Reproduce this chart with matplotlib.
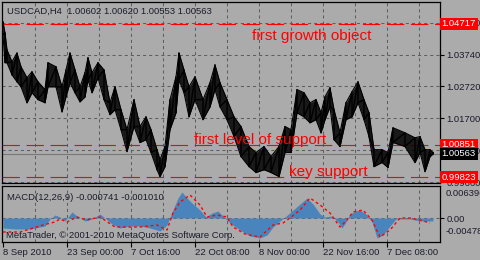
import numpy as np
import matplotlib.pyplot as plt
import matplotlib.transforms as mtransforms

plt.rcParams['font.family'] = ['Liberation Sans', 'DejaVu Sans']
plt.rcParams['lines.scale_dashes'] = False

# USDCAD H4, price swings (bar number, high, low)
bar_no = [0, 2, 4, 9, 14, 18, 24, 29, 35, 42, 45, 53, 59, 63, 67, 72, 77, 82, 85, 89,
          95, 101, 107, 112, 118, 124, 131, 137, 143, 148, 154, 157, 162, 167, 173, 176,
          181, 186, 192, 200, 207, 212, 217, 224, 231, 238, 246, 253, 261, 268, 276, 282,
          288, 294, 301, 307, 313, 318, 322, 327, 331, 337, 343, 349, 355, 361, 366, 371,
          379, 385, 390, 402, 412, 417, 422, 427, 430]
bar_high = [1.0478, 1.0443, 1.0389, 1.0351, 1.0379, 1.0335, 1.0300, 1.0319, 1.0287, 1.0262,
            1.0348, 1.0335, 1.0271, 1.0325, 1.0379, 1.0325, 1.0271, 1.0316, 1.0364, 1.0316,
            1.0348, 1.0325, 1.0220, 1.0271, 1.0198, 1.0134, 1.0230, 1.0144, 1.0175, 1.0134,
            1.0070, 1.0038, 1.0080, 1.0230, 1.0303, 1.0379, 1.0325, 1.0271, 1.0303, 1.0230,
            1.0284, 1.0341, 1.0284, 1.0230, 1.0175, 1.0144, 1.0080, 1.0061, 1.0080, 1.0048,
            1.0080, 1.0144, 1.0134, 1.0262, 1.0252, 1.0220, 1.0230, 1.0188, 1.0239, 1.0268,
            1.0198, 1.0124, 1.0220, 1.0255, 1.0287, 1.0230, 1.0188, 1.0070, 1.0070, 1.0061,
            1.0140, 1.0124, 1.0108, 1.0112, 1.0070, 1.0070, 1.0061]
bar_low = [1.0437, 1.0348, 1.0348, 1.0309, 1.0287, 1.0271, 1.0220, 1.0252, 1.0230, 1.0220,
           1.0271, 1.0271, 1.0191, 1.0239, 1.0284, 1.0252, 1.0223, 1.0239, 1.0293, 1.0252,
           1.0300, 1.0230, 1.0182, 1.0198, 1.0134, 1.0064, 1.0144, 1.0093, 1.0102, 1.0061,
           1.0006, 0.9984, 1.0016, 1.0134, 1.0188, 1.0293, 1.0252, 1.0175, 1.0230, 1.0166,
           1.0207, 1.0262, 1.0207, 1.0166, 1.0112, 1.0048, 1.0016, 0.9997, 1.0006, 0.9997,
           0.9984, 1.0061, 1.0061, 1.0188, 1.0175, 1.0156, 1.0166, 1.0124, 1.0166, 1.0207,
           1.0102, 1.0080, 1.0166, 1.0175, 1.0220, 1.0166, 1.0112, 1.0016, 1.0029, 1.0013,
           1.0093, 1.0080, 1.0029, 1.0061, 1.0000, 1.0048, 1.0056]

# MACD(12,26,9) histogram and signal line
macd_bar = [0, 12, 27, 42, 47, 52, 57, 62, 69, 74, 82, 89, 97, 102, 109, 117, 127, 137,
            147, 157, 164, 169, 175, 179, 183, 189, 197, 203, 209, 215, 221, 227, 237, 247,
            257, 264, 270, 277, 282, 289, 297, 304, 310, 317, 322, 329, 335, 339, 343, 347,
            353, 357, 363, 369, 374, 380, 387, 393, 399, 407, 417, 430]
macd_hist = [-0.0020, -0.0022, -0.0022, -0.0016, -0.0002, 0.0006, 0.0002, -0.0006, 0.0012,
             0.0004, -0.0006, -0.0002, 0.0008, 0.0000, -0.0012, -0.0020, -0.0016, -0.0016,
             -0.0020, -0.0026, -0.0014, 0.0012, 0.0040, 0.0052, 0.0042, 0.0030, 0.0016,
             0.0002, 0.0010, 0.0014, 0.0002, -0.0010, -0.0024, -0.0036, -0.0040, -0.0034,
             -0.0018, -0.0006, 0.0002, 0.0014, 0.0028, 0.0040, 0.0028, 0.0008, 0.0002, 0.0004,
             -0.0008, -0.0020, -0.0008, 0.0008, 0.0014, 0.0016, 0.0008, -0.0008, -0.0040,
             -0.0034, -0.0016, -0.0002, -0.0002, -0.0002, -0.0006, -0.0006]
signal_bar = [0, 17, 40, 52, 57, 64, 74, 84, 97, 112, 137, 154, 164, 170, 177, 187, 197,
              204, 214, 224, 230, 242, 257, 270, 280, 287, 297, 307, 317, 327, 337, 344, 350,
              360, 369, 377, 387, 397, 407, 417, 427]
signal = [-0.0028, -0.0028, -0.0014, -0.0008, -0.0002, -0.0008, 0.0002, -0.0004, 0.0002,
          -0.0018, -0.0018, -0.0014, -0.0024, 0.0010, 0.0032, 0.0046, 0.0026, 0.0002, 0.0006,
          0.0002, -0.0018, -0.0032, -0.0038, -0.0014, -0.0010, 0.0000, 0.0016, 0.0040, 0.0026,
          0.0010, -0.0018, -0.0004, 0.0012, 0.0016, -0.0004, -0.0038, -0.0024, 0.0000, 0.0000,
          -0.0004, -0.0010]

grid_prices = [1.04760, 1.03740, 1.02720, 1.01700, 1.00680, 0.99660]
levels = [1.04717, 1.00851, 0.99823]
level_notes = ['first growth object', 'first level of support', 'key support']
note_bar = [249, 191, 286]
note_price = [1.0434, 1.0102, 1.0000]
last_price = 1.00563
date_bars = [0, 64, 128, 192, 256, 320, 384]
date_labels = ['8 Sep 2010', '23 Sep 00:00', '7 Oct 16:00', '22 Oct 08:00',
               '8 Nov 00:00', '22 Nov 16:00', '7 Dec 08:00']
grid_bars = list(range(32, 437, 32))

BG = '#ababab'
GRID = '#5e5e5e'
TXT = '#1c1c2c'
FS = 6.8

fig = plt.figure(figsize=(4.8, 2.6), dpi=100, facecolor=BG)
ax = fig.add_axes([2 / 480, 77 / 260, 438 / 480, 181 / 260], facecolor=BG)
ax2 = fig.add_axes([2 / 480, 18 / 260, 438 / 480, 56 / 260], facecolor=BG)

for a in (ax, ax2):
    a.set_xlim(-1, 437)
    for s in a.spines.values():
        s.set_color('black')
        s.set_linewidth(0.9)
    for b in grid_bars:
        a.axvline(b, color=GRID, lw=0.75, ls=(0, (2.2, 2.2)), zorder=0)

# main price window
ax.set_ylim(0.99635, 1.0542)
for p in grid_prices:
    ax.axhline(p, color=GRID, lw=0.75, ls=(0, (2.2, 2.2)), zorder=0)
ax.axhline(last_price, color='#777777', lw=0.8, zorder=1)
for p in levels:
    ax.axhline(p, color='red', lw=0.8, ls=(0, (12.5, 4.8)), zorder=1)

# dense H4 bars: high/low envelope plus a zigzag through each swing
ax.fill_between(bar_no, bar_low, bar_high, color='black', alpha=0.85, lw=0, zorder=2)
ax.plot(bar_no, bar_high, color='black', lw=0.8, zorder=2)
ax.plot(bar_no, bar_low, color='black', lw=0.8, zorder=2)
zig_x = np.repeat(bar_no, 2)
zig_y = np.column_stack([bar_high, bar_low]).ravel()
ax.plot(zig_x, zig_y, color='black', lw=1.0, zorder=2)

for t, b, p in zip(level_notes, note_bar, note_price):
    ax.text(b, p, t, color='red', fontsize=11, ha='left', va='center', zorder=4)

ax.set_xticks([])
ax.yaxis.tick_right()
ax.set_yticks(grid_prices)
ax.set_yticklabels(['%.5f' % p for p in grid_prices])
ax.tick_params(axis='y', length=3, width=0.8, pad=1.5, labelsize=FS, labelcolor=TXT)

trans = mtransforms.blended_transform_factory(ax.transAxes, ax.transData)
for p, fc in [(levels[0], 'red'), (levels[1], 'red'), (last_price, 'black'), (levels[2], 'red')]:
    ax.text(1.004, p, '%.5f' % p, transform=trans, ha='left', va='center', fontsize=FS,
            color='white', clip_on=False, zorder=6,
            bbox=dict(boxstyle='square,pad=0.18', fc=fc, ec='none'))

ax.text(0.0115, 0.95, 'USDCAD,H4  1.00602 1.00620 1.00553 1.00563', transform=ax.transAxes,
        fontsize=FS, color=TXT, ha='left', va='center')

# MACD window
ax2.set_ylim(-0.0048, 0.0064)
ax2.axhline(0, color=GRID, lw=0.75, ls=(0, (2.2, 2.2)), zorder=0)
ax2.fill_between(macd_bar, 0, macd_hist, color='#4a84bd', lw=0, zorder=2)
ax2.plot(signal_bar, signal, color='red', lw=1.0, ls=(0, (2, 2)), zorder=3)
ax2.text(0.0115, 0.80, 'MACD(12,26,9) -0.000741 -0.001010', transform=ax2.transAxes,
         fontsize=FS, color=TXT, ha='left', va='center')
ax2.text(0.009, 0.125, 'MetaTrader, \u00a9 2001-2010 MetaQuotes Software Corp.',
         transform=ax2.transAxes, fontsize=FS, color=TXT, ha='left', va='center', zorder=4)

ax2.yaxis.tick_right()
ax2.set_yticks([0])
ax2.set_yticklabels(['0.00'])
ax2.tick_params(axis='y', length=3, width=0.8, pad=1.5, labelsize=FS, labelcolor=TXT)
for yf, t in [(0.875, '0.006396'), (0.196, '-0.00478')]:
    ax2.text(1.012, yf, t, transform=ax2.transAxes, fontsize=FS, color=TXT,
             ha='left', va='center', clip_on=False)

ax2.set_xticks(date_bars)
ax2.set_xticklabels(date_labels, ha='left')
ax2.tick_params(axis='x', length=3.5, width=0.8, pad=1, labelsize=FS, labelcolor=TXT)

fig.savefig('out.png', dpi=100, facecolor=BG)
